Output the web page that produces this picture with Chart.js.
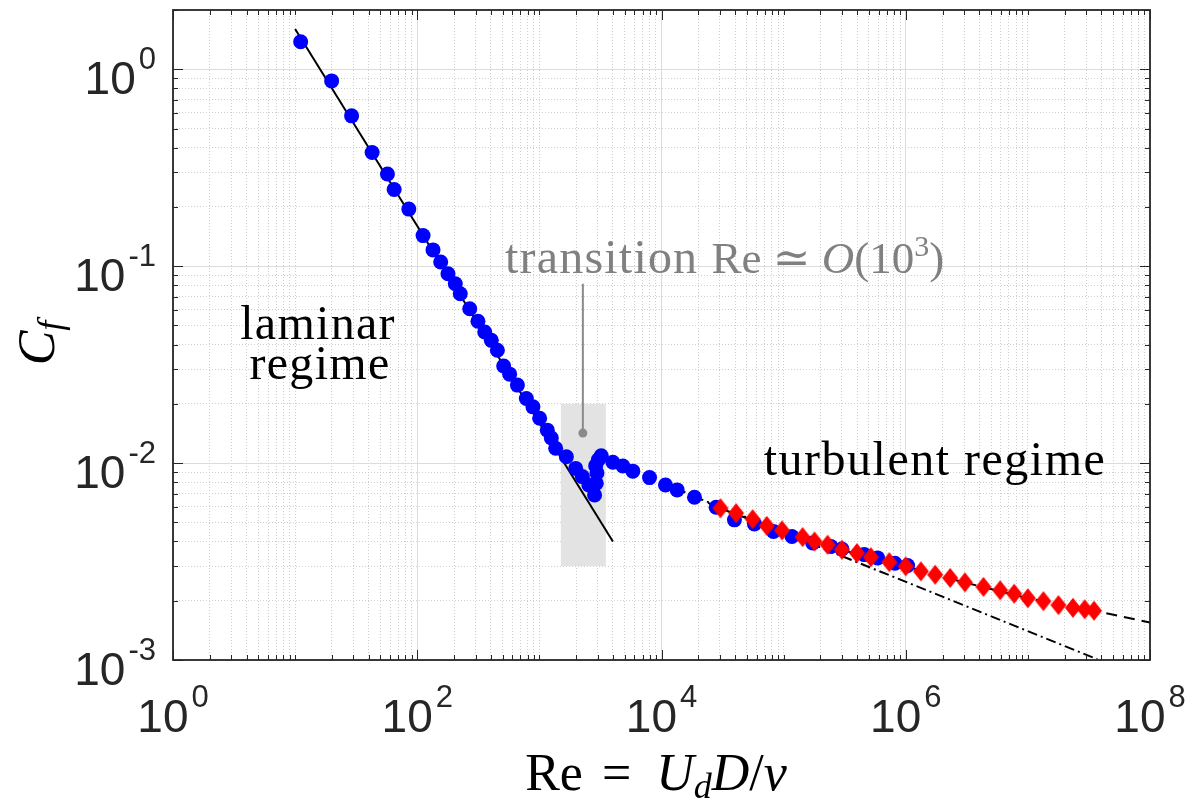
<!DOCTYPE html>
<html>
<head>
<meta charset="utf-8">
<script src="https://cdn.jsdelivr.net/npm/chart.js@4.4.0/dist/chart.umd.min.js"></script>
<style>
  html, body { margin: 0; padding: 0; background: #fff; }
  #wrap { width: 1186px; height: 802px; }
</style>
</head>
<body>
<div id="wrap"><canvas id="cfChart"></canvas></div>
<script>
// blue circles (Cf vs Re)
var reCircle = [11.1, 19.9, 29, 42.7, 57, 64.7, 85.3, 111.6, 134.6, 155.6, 178.6, 205, 225, 269, 314, 357, 404, 453,
  510, 571, 661, 782, 886, 1005, 1161, 1253, 1359, 1663, 1983, 2246, 2543, 2831, 2924, 2960, 2890, 3040, 3212,
  3997, 4830, 5825, 7980, 10780, 13430, 18620, 28000, 39550, 57650, 82500, 117000, 173000, 244000, 300000,
  457000, 588000, 815000, 1035000];
var cfCircle = [1.38, 0.873, 0.58, 0.378, 0.294, 0.245, 0.195, 0.143, 0.121, 0.105, 0.0915, 0.0814, 0.0725, 0.0608,
  0.0525, 0.0463, 0.042, 0.0374, 0.0311, 0.0283, 0.0249, 0.0213, 0.0193, 0.0169, 0.0147, 0.0134, 0.0119, 0.01077,
  0.0094, 0.00854, 0.00774, 0.00689, 0.0079, 0.0089, 0.0097, 0.0104, 0.0109,
  0.0101, 0.00966, 0.0091, 0.00844, 0.00774, 0.00731, 0.00671, 0.00597, 0.00515, 0.00491, 0.0045, 0.00424,
  0.00393, 0.00377, 0.00366, 0.00343, 0.0033, 0.0031, 0.00302];

// red diamonds
var reDiamond = [30400, 40800, 55800, 72800, 97000, 143000, 179000, 229000, 300000, 398000, 518000, 733000,
  1.0e6, 1.33e6, 1.74e6, 2.31e6, 3.05e6, 4.33e6, 5.93e6, 7.72e6, 1.0e7, 1.34e7, 1.78e7, 2.34e7, 2.92e7, 3.48e7];
var cfDiamond = [0.0059, 0.00557, 0.00519, 0.0048, 0.00455, 0.00421, 0.004, 0.00385, 0.00363, 0.00349, 0.00333,
  0.00314, 0.00299, 0.00282, 0.00271, 0.00261, 0.00248, 0.00235, 0.00226, 0.00217, 0.00206, 0.00199, 0.0019,
  0.00184, 0.00181, 0.00178];

// solid laminar line
var reLaminar = [10, 4000];
var cfLaminar = [1.6, 0.004];
// dash-dot line
var reDashDot = [13000, 37000000];
var cfDashDot = [0.0074, 0.00101];
// dashed line
var reDashed = [13000, 30000, 100000, 300000, 1e6, 3e6, 1e7, 3.5e7, 1e8];
var cfDashed = [0.0075, 0.0059, 0.00448, 0.00362, 0.00299, 0.00248, 0.00206, 0.00178, 0.00155];

// shaded transition band and its pointer
var reBand = [1500, 3500];
var cfBand = [0.003, 0.02];
var rePointer = 2270;
var cfPointer = [0.0814, 0.0142];

// tick labels
var xTickValues = [1, 1e2, 1e4, 1e6, 1e8];
var xTickExp = ['0', '2', '4', '6', '8'];
var yTickValues = [1, 0.1, 0.01, 0.001];
var yTickExp = ['0', '-1', '-2', '-3'];

function toPoints(xs, ys) {
  return xs.map(function (x, i) { return {x: x, y: ys[i]}; });
}

// 1..9 x 10^e values for grid lines / tick marks
function logGrid(lo, hi, max) {
  var vals = [];
  for (var e = lo; e <= hi; e++) {
    for (var m = 1; m < 10; m++) {
      var v = parseFloat((m * Math.pow(10, e)).toPrecision(6));
      if (v <= max * 1.0000001) vals.push(v);
    }
  }
  return vals;
}
function isDecade(v) {
  var l = Math.log10(v);
  return Math.abs(l - Math.round(l)) < 1e-9;
}
function isXMajor(v) {
  return isDecade(v) && Math.round(Math.log10(v)) % 2 === 0;
}

var xGrid = logGrid(0, 8, 1e8);
var yGrid = logGrid(-3, 0, 2);

// MATLAB style diamond marker
var diamond = document.createElement('canvas');
diamond.width = 18;
diamond.height = 22;
(function () {
  var c = diamond.getContext('2d');
  c.fillStyle = '#ff0000';
  c.beginPath();
  c.moveTo(9, 1);
  c.lineTo(17, 11);
  c.lineTo(9, 21);
  c.lineTo(1, 11);
  c.closePath();
  c.fill();
})();

var SANS = '"Liberation Sans Narrow", "Liberation Sans", Arial, sans-serif';
var SERIF = '"Liberation Serif", "DejaVu Serif", serif';

function drawPow(ctx, x, baseY, expY, exp, align) {
  ctx.font = '46px ' + SANS;
  var wb = ctx.measureText('10').width;
  ctx.font = '31px ' + SANS;
  var we = ctx.measureText(exp).width;
  var total = wb + 3 + we;
  var left = align === 'right' ? x - total : x - total / 2;
  ctx.textAlign = 'left';
  ctx.textBaseline = 'alphabetic';
  ctx.font = '46px ' + SANS;
  ctx.fillText('10', left, baseY);
  ctx.font = '31px ' + SANS;
  ctx.fillText(exp, left + wb + 3, expY);
}

// draws a list of [text, font, dy, letterSpacing] pieces one after another
function drawRun(ctx, x, y, parts, align) {
  ctx.textAlign = 'left';
  ctx.textBaseline = 'alphabetic';
  var widths = parts.map(function (p) {
    ctx.font = p[1];
    ctx.letterSpacing = (p[3] || 0) + 'px';
    var w = ctx.measureText(p[0]).width;
    ctx.letterSpacing = '0px';
    return w;
  });
  var total = widths.reduce(function (a, b) { return a + b; }, 0);
  var cx = align === 'center' ? x - total / 2 : x;
  parts.forEach(function (p, i) {
    ctx.font = p[1];
    ctx.letterSpacing = (p[3] || 0) + 'px';
    ctx.fillText(p[0], cx, y + (p[2] || 0));
    ctx.letterSpacing = '0px';
    cx += widths[i];
  });
}

var decor = {
  id: 'decor',
  beforeDatasetsDraw: function (chart) {
    var ctx = chart.ctx, sx = chart.scales.x, sy = chart.scales.y;
    ctx.save();
    // transition band
    var bx0 = sx.getPixelForValue(reBand[0]), bx1 = sx.getPixelForValue(reBand[1]);
    var by0 = sy.getPixelForValue(cfBand[1]), by1 = sy.getPixelForValue(cfBand[0]);
    ctx.fillStyle = '#e3e3e3';
    ctx.fillRect(bx0, by0, bx1 - bx0, by1 - by0);
    // pointer
    var px = sx.getPixelForValue(rePointer);
    var py0 = sy.getPixelForValue(cfPointer[0]), py1 = sy.getPixelForValue(cfPointer[1]);
    ctx.strokeStyle = '#8a8a8a';
    ctx.lineWidth = 2;
    ctx.beginPath();
    ctx.moveTo(px, py0);
    ctx.lineTo(px, py1);
    ctx.stroke();
    ctx.fillStyle = '#8a8a8a';
    ctx.beginPath();
    ctx.arc(px, py1, 4.5, 0, Math.PI * 2);
    ctx.fill();
    ctx.restore();
  },
  afterDatasetsDraw: function (chart) {
    var ctx = chart.ctx, sx = chart.scales.x, sy = chart.scales.y, a = chart.chartArea;
    ctx.save();
    // tick marks pointing inwards on all four sides
    ctx.strokeStyle = '#262626';
    ctx.lineWidth = 1;
    ctx.beginPath();
    xGrid.forEach(function (v) {
      var p = Math.round(sx.getPixelForValue(v)) + 0.5;
      var len = isXMajor(v) ? 10 : 5;
      ctx.moveTo(p, a.bottom);
      ctx.lineTo(p, a.bottom - len);
      ctx.moveTo(p, a.top);
      ctx.lineTo(p, a.top + len);
    });
    yGrid.forEach(function (v) {
      var p = Math.round(sy.getPixelForValue(v)) + 0.5;
      var len = isDecade(v) ? 10 : 5;
      ctx.moveTo(a.left, p);
      ctx.lineTo(a.left + len, p);
      ctx.moveTo(a.right, p);
      ctx.lineTo(a.right - len, p);
    });
    ctx.stroke();
    // frame
    ctx.lineWidth = 1.8;
    ctx.strokeRect(a.left, a.top, a.right - a.left, a.bottom - a.top);

    // tick labels
    ctx.fillStyle = '#262626';
    xTickValues.forEach(function (v, i) {
      var p = sx.getPixelForValue(v);
      drawPow(ctx, p, a.bottom + 72, a.bottom + 47, xTickExp[i], 'center');
    });
    yTickValues.forEach(function (v, i) {
      var p = sy.getPixelForValue(v);
      drawPow(ctx, a.left - 17, p + 25, p, yTickExp[i], 'right');
    });

    // axis titles
    ctx.fillStyle = '#000';
    drawRun(ctx, 656, 790, [
      ['Re', '52px ' + SERIF],
      [' = ', '52px ' + SERIF, 0, 6],
      ['U', 'italic 52px ' + SERIF],
      ['d', 'italic 36px ' + SERIF, 8],
      ['D', 'italic 52px ' + SERIF],
      ['/', '52px ' + SERIF],
      ['\u03bd', 'italic 52px ' + SERIF]
    ], 'center');
    ctx.save();
    ctx.translate(54, 343);
    ctx.rotate(-Math.PI / 2);
    drawRun(ctx, 0, 0, [
      ['C', 'italic 52px ' + SERIF],
      ['f', 'italic 36px ' + SERIF, 8]
    ], 'center');
    ctx.restore();

    // region notes
    ctx.fillStyle = '#000';
    drawRun(ctx, 318, 339, [['laminar', '48px ' + SERIF, 0, 1.3]], 'center');
    drawRun(ctx, 320, 379, [['regime', '48px ' + SERIF, 0, 1.3]], 'center');
    drawRun(ctx, 935, 475, [['turbulent regime', '48px ' + SERIF, 0, 1.5]], 'center');

    ctx.fillStyle = '#808080';
    drawRun(ctx, 505, 273, [
      ['transition ', '48px ' + SERIF, 0, 1.2],
      ['Re', '45px ' + SERIF],
      [' \u2243 ', '45px ' + SERIF],
      ['O', 'italic 45px ' + SERIF],
      ['(10', '45px ' + SERIF],
      ['3', '30px ' + SERIF, -17],
      [')', '45px ' + SERIF]
    ], 'left');
    ctx.restore();
  }
};

var gridColor = function (major) {
  return function (c) {
    if (!c.tick) return 'rgba(0,0,0,0)';
    return major(c.tick.value) ? '#dcdcdc' : '#cfcfcf';
  };
};
var gridDash = function (major) {
  return function (c) {
    if (!c.tick) return [];
    return major(c.tick.value) ? [] : [1, 2];
  };
};

new Chart(document.getElementById('cfChart'), {
  type: 'scatter',
  data: {
    datasets: [
      {
        label: 'diamonds',
        data: toPoints(reDiamond, cfDiamond),
        pointStyle: diamond,
        pointRadius: 9,
        order: 1
      },
      {
        label: 'circles',
        data: toPoints(reCircle, cfCircle),
        pointStyle: 'circle',
        pointRadius: 7.5,
        backgroundColor: '#0000ff',
        borderColor: '#0000ff',
        borderWidth: 0,
        order: 2
      },
      {
        label: 'laminar',
        data: toPoints(reLaminar, cfLaminar),
        showLine: true,
        pointRadius: 0,
        borderColor: '#000',
        borderWidth: 2,
        order: 3
      },
      {
        label: 'dash-dot',
        data: toPoints(reDashDot, cfDashDot),
        showLine: true,
        pointRadius: 0,
        borderColor: '#000',
        borderWidth: 2,
        borderDash: [10, 4, 2, 4],
        order: 4
      },
      {
        label: 'dashed',
        data: toPoints(reDashed, cfDashed),
        showLine: true,
        pointRadius: 0,
        borderColor: '#000',
        borderWidth: 2,
        borderDash: [11, 7],
        order: 5
      }
    ]
  },
  options: {
    responsive: true,
    maintainAspectRatio: false,
    animation: false,
    events: [],
    layout: { padding: { left: 173, right: 36, top: 9, bottom: 142 } },
    plugins: { legend: { display: false }, tooltip: { enabled: false } },
    scales: {
      x: {
        type: 'logarithmic',
        min: 1,
        max: 1e8,
        ticks: { display: false },
        afterBuildTicks: function (scale) {
          scale.ticks = xGrid.map(function (v) { return {value: v}; });
        },
        grid: { drawTicks: false, lineWidth: 1, color: gridColor(isXMajor) },
        border: { display: false, dash: gridDash(isXMajor) }
      },
      y: {
        type: 'logarithmic',
        min: 0.001,
        max: 2,
        ticks: { display: false },
        afterBuildTicks: function (scale) {
          scale.ticks = yGrid.map(function (v) { return {value: v}; });
        },
        grid: { drawTicks: false, lineWidth: 1, color: gridColor(isDecade) },
        border: { display: false, dash: gridDash(isDecade) }
      }
    }
  },
  plugins: [decor]
});
</script>
</body>
</html>
